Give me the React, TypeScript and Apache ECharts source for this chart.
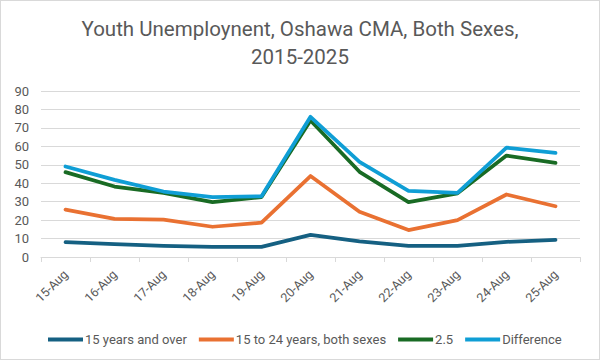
import React, { useEffect, useRef } from "react";
import * as echarts from "echarts";

const categories = ["15-Aug", "16-Aug", "17-Aug", "18-Aug", "19-Aug", "20-Aug", "21-Aug", "22-Aug", "23-Aug", "24-Aug", "25-Aug"];
const over15 = [8.0, 7.0, 6.0, 5.5, 5.5, 12.0, 8.5, 6.0, 6.0, 8.2, 9.3];
const youth15to24 = [25.7, 20.7, 20.3, 16.4, 18.6, 43.9, 24.5, 14.6, 20.0, 33.9, 27.5];
const ratio25 = [46.0, 38.2, 34.8, 29.8, 32.5, 74.0, 46.2, 29.8, 34.5, 55.0, 51.0];
const difference = [49.1, 41.8, 35.5, 32.5, 32.9, 76.0, 51.6, 35.9, 34.8, 59.3, 56.4];
const seriesNames = ["15 years and over", "15 to 24 years, both sexes", "2.5", "Difference"];
const colors = ["#156082", "#E97132", "#196B24", "#0F9ED5"];

const FONT = "Roboto";

export default function App() {
  const ref = useRef<HTMLDivElement>(null);
  useEffect(() => {
    const chart = echarts.init(ref.current!, null, { renderer: "svg" });
    const data = [over15, youth15to24, ratio25, difference];
    chart.setOption({
      animation: false,
      backgroundColor: "#ffffff",
      title: {
        text: "Youth Unemploynent, Oshawa CMA, Both Sexes,\n2015-2025",
        left: "center",
        top: 9,
        textStyle: { fontFamily: FONT, fontSize: 20.5, fontWeight: "normal", color: "#595959", lineHeight: 28 },
      },
      legend: {
        top: 327,
        left: 42,
        itemWidth: 35,
        itemHeight: 4,
        itemGap: 12,
        icon: "rect",
        textStyle: { fontFamily: FONT, fontSize: 13, color: "#595959", padding: [0, 0, 0, -3] },
        data: seriesNames,
      },
      grid: { left: 40, right: 19, top: 90, bottom: 102 },
      xAxis: {
        type: "category",
        data: categories,
        boundaryGap: true,
        axisLine: { lineStyle: { color: "#d9d9d9" } },
        axisTick: { show: true, length: 5, lineStyle: { color: "#d9d9d9" } },
        axisLabel: { rotate: 45, color: "#595959", fontFamily: FONT, fontSize: 12.5, margin: 15 },
      },
      yAxis: {
        type: "value",
        min: 0,
        max: 90,
        interval: 10,
        axisLine: { show: false },
        axisTick: { show: false },
        splitLine: { lineStyle: { color: "#d9d9d9" } },
        axisLabel: { color: "#595959", fontFamily: FONT, fontSize: 13, margin: 12 },
      },
      series: data.map((d, i) => ({
        name: seriesNames[i],
        type: "line",
        data: d,
        symbol: "none",
        lineStyle: { width: 3.75, color: colors[i], cap: "round", join: "round" },
        itemStyle: { color: colors[i] },
      })),
    });
    return () => chart.dispose();
  }, []);
  return (
    <div
      ref={ref}
      style={{ position: "fixed", left: 0, top: 0, width: 600, height: 360, boxSizing: "border-box", border: "1px solid #d9d9d9" }}
    />
  );
}
